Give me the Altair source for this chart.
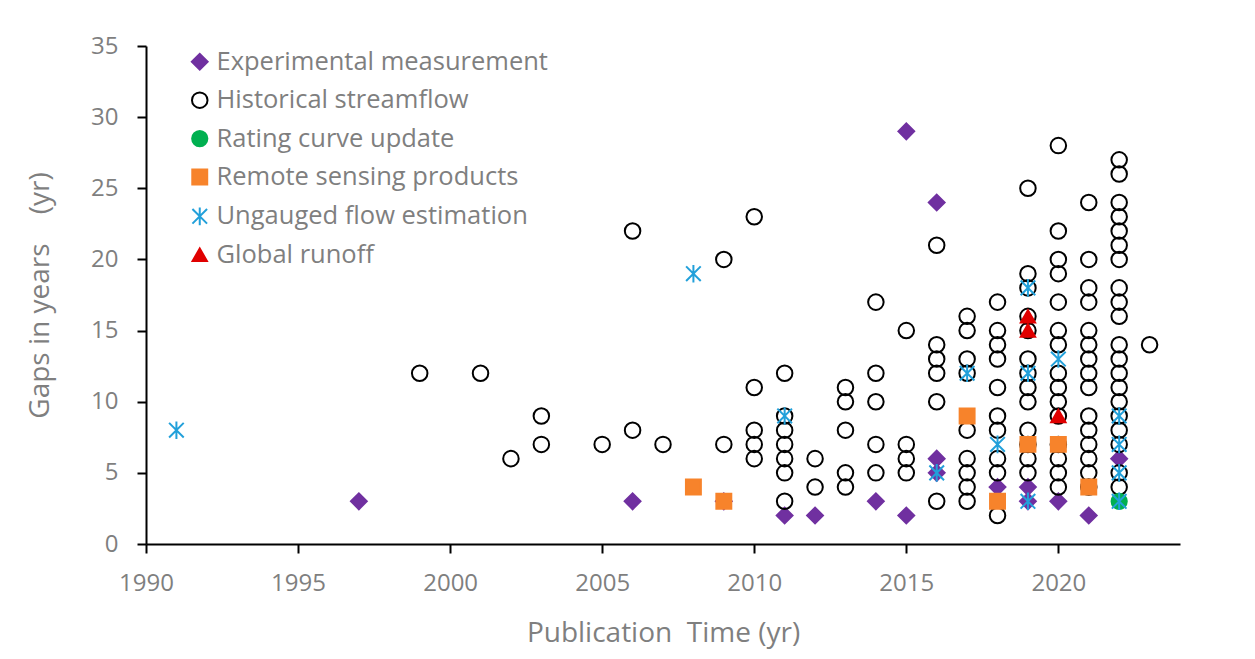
import altair as alt
import pandas as pd

SERIES = ["Experimental measurement", "Historical streamflow", "Rating curve update",
          "Remote sensing products", "Ungauged flow estimation", "Global runoff"]

# Experimental measurement (purple diamonds)
exp_year = [1997, 2006, 2009, 2011, 2012, 2014, 2015, 2015, 2016, 2016, 2016, 2018, 2019, 2019, 2020, 2021, 2022]
exp_gap = [3, 3, 3, 2, 2, 3, 29, 2, 24, 6, 5, 4, 4, 3, 3, 2, 6]

# Historical streamflow (open circles)
hist = {
    1999: [12], 2001: [12], 2002: [6], 2003: [9, 7], 2005: [7], 2006: [22, 8], 2007: [7],
    2009: [20, 7], 2010: [23, 11, 8, 7, 6], 2011: [12, 9, 8, 7, 6, 5, 3], 2012: [6, 4],
    2013: [11, 10, 8, 5, 4], 2014: [17, 12, 10, 7, 5], 2015: [15, 7, 6, 5],
    2016: [21, 14, 13, 12, 10, 3], 2017: [16, 15, 13, 12, 8, 6, 5, 4, 3],
    2018: [17, 15, 14, 13, 11, 9, 8, 6, 5, 2],
    2019: [25, 19, 18, 16, 15, 13, 12, 11, 10, 8, 7, 6, 5],
    2020: [28, 22, 20, 19, 17, 15, 14, 12, 11, 10, 9, 7, 6, 5, 4],
    2021: [24, 20, 18, 17, 15, 14, 13, 12, 11, 9, 8, 7, 6, 5, 4],
    2022: [27, 26, 24, 23, 22, 21, 20, 18, 17, 16, 14, 13, 12, 11, 10, 9, 8, 7, 5, 4],
    2023: [14],
}
hist_year = [y for y, g in hist.items() for _ in g]
hist_gap = [v for g in hist.values() for v in g]

# Rating curve update (green dot)
rating_year = [2022]
rating_gap = [3]

# Remote sensing products (orange squares)
remote_year = [2008, 2009, 2017, 2018, 2019, 2020, 2021]
remote_gap = [4, 3, 9, 3, 7, 7, 4]

# Ungauged flow estimation (blue stars)
ung_year = [1991, 2008, 2011, 2016, 2017, 2018, 2019, 2019, 2019, 2020, 2022, 2022, 2022, 2022]
ung_gap = [8, 19, 9, 5, 12, 7, 18, 12, 3, 13, 9, 7, 5, 3]

# Global runoff (red triangles)
glob_year = [2019, 2019, 2020]
glob_gap = [16, 15, 9]

frames = []
for name, ys, gs in zip(SERIES,
                        [exp_year, hist_year, rating_year, remote_year, ung_year, glob_year],
                        [exp_gap, hist_gap, rating_gap, remote_gap, ung_gap, glob_gap]):
    frames.append(pd.DataFrame({"year": ys, "gap": gs, "series": name}))
df = pd.concat(frames, ignore_index=True)
df["idx"] = range(len(df))

STAR = "M-1,-1L1,1M-1,1L1,-1M0,-1.2L0,1.2"
strokes = ["#7030A0", "#000000", "#00B050", "#F7832B", "#22A0DA", "#E00000"]
fills = ["#7030A0", "transparent", "#00B050", "#F7832B", "transparent", "#E00000"]
shapes = ["diamond", "circle", "circle", "square", STAR, "triangle-up"]
sizes = [250, 205, 205, 175, 420, 230]

FONT = "Open Sans"
GREY = "#7F7F7F"

chart = alt.Chart(df).mark_point(filled=False, strokeWidth=2, opacity=1).encode(
    x=alt.X("year:Q", scale=alt.Scale(domain=[1990, 2024], nice=False, zero=False),
            axis=alt.Axis(values=[1990, 1995, 2000, 2005, 2010, 2015, 2020], format="d",
                          title="Publication\u00a0 Time (yr)", grid=False, labelFlush=False,
                          tickSize=9, labelPadding=18, titleY=89, titleBaseline="middle")),
    y=alt.Y("gap:Q", scale=alt.Scale(domain=[0, 35], nice=False),
            axis=alt.Axis(values=[0, 5, 10, 15, 20, 25, 30, 35],
                          title="Gaps in years\u00a0 \u00a0 (yr)",
                          grid=False, tickSize=9, labelPadding=19, labelFlush=False,
                          titleX=-106, titleY=249, titleAngle=270, titleAlign="center",
                          titleBaseline="middle")),
    color=alt.Color("series:N", scale=alt.Scale(domain=SERIES, range=strokes), title=None,
                    legend=alt.Legend(orient="none", legendX=41, legendY=3)),
    fill=alt.Fill("series:N", scale=alt.Scale(domain=SERIES, range=fills), title=None),
    shape=alt.Shape("series:N", scale=alt.Scale(domain=SERIES, range=shapes), title=None),
    size=alt.Size("series:N", scale=alt.Scale(domain=SERIES, range=sizes), legend=None),
    order=alt.Order("idx:Q"),
).properties(
    width=1034, height=498,
    autosize=alt.AutoSizeParams(type="none"),
    padding={"left": 146, "top": 46, "right": 75, "bottom": 115},
    background="white",
).configure_view(stroke=None).configure_axis(
    domainColor="#000000", domainWidth=2, tickColor="#000000", tickWidth=2,
    labelFont=FONT, labelFontSize=24, labelColor=GREY,
    titleFont=FONT, titleFontSize=28, titleColor=GREY, titleFontWeight="normal",
).configure_legend(
    labelFont=FONT, labelFontSize=25.5, labelColor=GREY, symbolSize=170,
    symbolStrokeWidth=2, rowPadding=11.4, labelOffset=4, padding=0, labelLimit=500,
)

chart.save("out.html", embed_options={"renderer": "svg", "actions": False})
